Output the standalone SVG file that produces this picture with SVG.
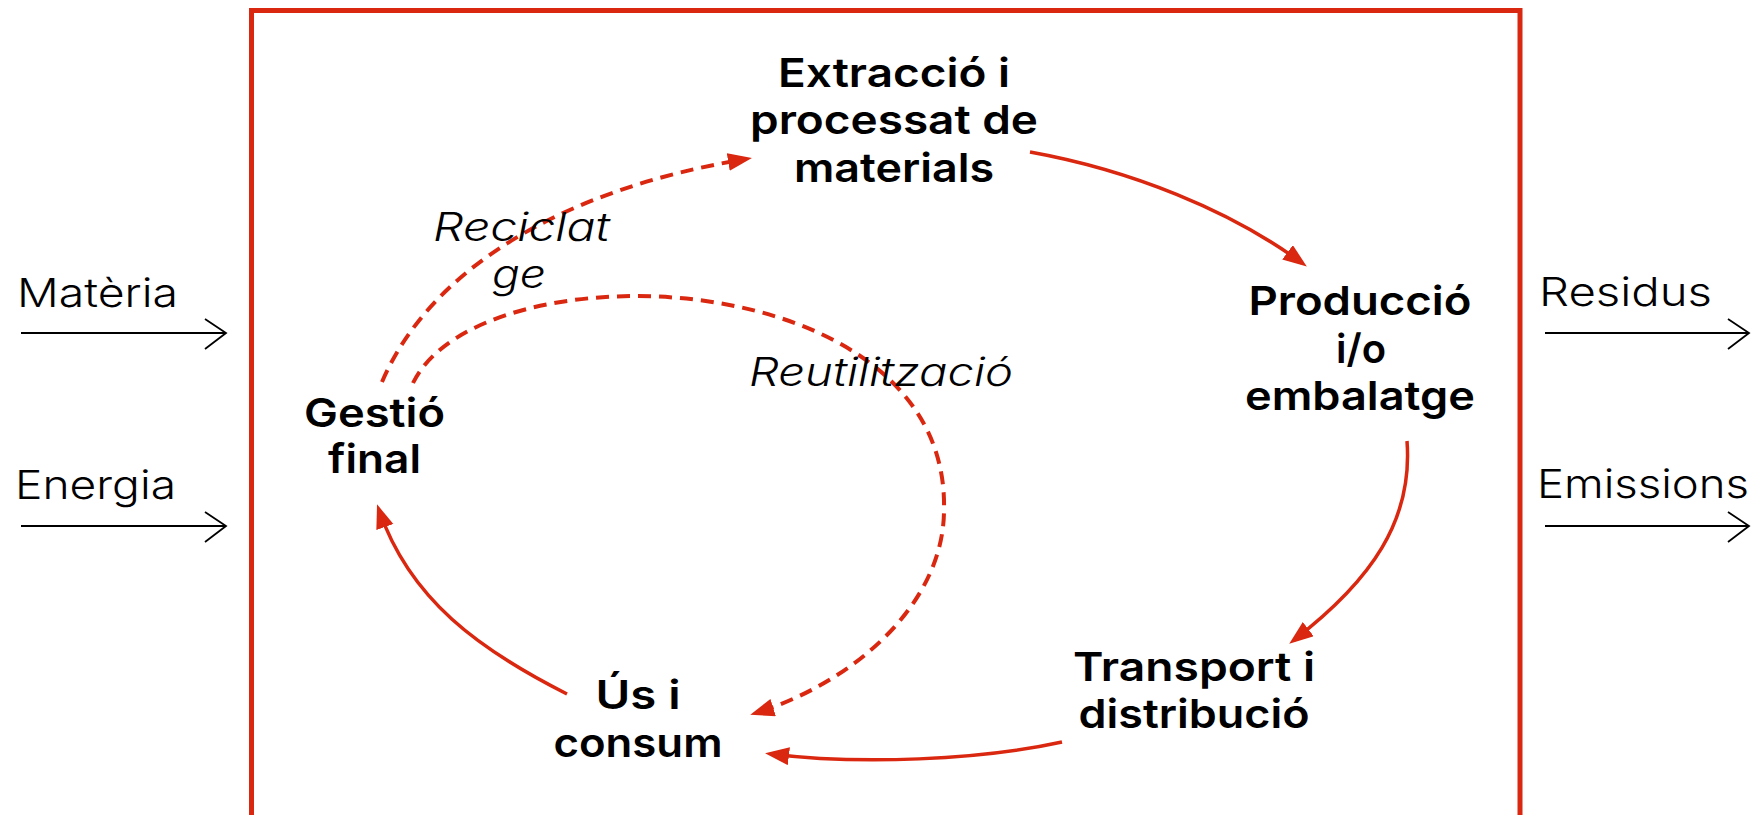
<svg xmlns="http://www.w3.org/2000/svg" width="1760" height="815" viewBox="0 0 1760 815">
  <style>
    .node { font-family: Inter, "DejaVu Sans", "Liberation Sans", sans-serif; font-weight: 600; font-size: 40px; fill: #000; text-anchor: middle; }
    .lab { font-family: Inter, "DejaVu Sans", "Liberation Sans", sans-serif; font-weight: 300; font-size: 40px; fill: #000; }
    .ital { font-family: Inter, "DejaVu Sans", "Liberation Sans", sans-serif; font-style: italic; font-weight: 300; font-size: 39px; fill: #000; }
    .flow { fill: none; stroke: #DA2710; stroke-width: 3.5; }
    .dash { fill: none; stroke: #DA2710; stroke-width: 4; stroke-dasharray: 13 8; }
    .io { fill: none; stroke: #000; stroke-width: 1.8; }
  </style>
  <defs>
    <marker id="ah" markerUnits="userSpaceOnUse" markerWidth="26" markerHeight="20" refX="18" refY="9" orient="auto">
      <path d="M0,0 L24,9 L0,18 z" fill="#DA2710"/>
    </marker>
  </defs>
  <rect id="boundary" x="251.5" y="10.5" width="1268.5" height="807" fill="none" stroke="#DA2710" stroke-width="5"/>

  <g id="inputs-outputs">
    <text class="lab" x="17" y="307" textLength="161" lengthAdjust="spacingAndGlyphs">Matèria</text>
    <path class="io" d="M21,333 H226 M205,319 L226,333 L205,349"/>
    <text class="lab" x="15" y="499" textLength="161" lengthAdjust="spacingAndGlyphs">Energia</text>
    <path class="io" d="M21,526 H226 M205,512 L226,526 L205,542"/>
    <text class="lab" x="1539" y="306" textLength="173" lengthAdjust="spacingAndGlyphs">Residus</text>
    <path class="io" d="M1545,333 H1749 M1728,319 L1749,333 L1728,349"/>
    <text class="lab" x="1537" y="498" textLength="212" lengthAdjust="spacingAndGlyphs">Emissions</text>
    <path class="io" d="M1545,526 H1749 M1728,512 L1749,526 L1728,542"/>
  </g>

  <g id="connectors">
    <path class="flow" marker-end="url(#ah)" d="M1030,152 C1130,170 1230,210 1302,263"/>
    <path class="flow" marker-end="url(#ah)" d="M1407,441 C1413,520 1372,580 1294,640"/>
    <path class="flow" marker-end="url(#ah)" d="M1062,742 C980,760 860,765 771,754"/>
    <path class="flow" marker-end="url(#ah)" d="M567,694 C480,650 410,600 379,510"/>
    <path class="dash" marker-end="url(#ah)" d="M382,382 C430,270 560,190 746,159"/>
    <path class="dash" marker-end="url(#ah)" d="M413,383 C480,245 950,260 944,510 C944,600 860,680 756,713"/>
    <text class="ital" x="433" y="241" textLength="177" lengthAdjust="spacingAndGlyphs">Reciclat</text>
    <text class="ital" x="492" y="288" textLength="54" lengthAdjust="spacingAndGlyphs">ge</text>
    <text class="ital" x="749" y="386" textLength="264" lengthAdjust="spacingAndGlyphs">Reutilització</text>
  </g>

  <g id="extraccio">
    <text class="node" x="894" y="87" textLength="232" lengthAdjust="spacingAndGlyphs">Extracció i</text>
    <text class="node" x="894" y="134" textLength="288" lengthAdjust="spacingAndGlyphs">processat de</text>
    <text class="node" x="894" y="182" textLength="200" lengthAdjust="spacingAndGlyphs">materials</text>
  </g>
  <g id="produccio">
    <text class="node" x="1360" y="315" textLength="223" lengthAdjust="spacingAndGlyphs">Producció</text>
    <text class="node" x="1361" y="363">i/o</text>
    <text class="node" x="1360" y="410" textLength="230" lengthAdjust="spacingAndGlyphs">embalatge</text>
  </g>
  <g id="transport">
    <text class="node" x="1194" y="681" textLength="242" lengthAdjust="spacingAndGlyphs">Transport i</text>
    <text class="node" x="1194" y="728" textLength="231" lengthAdjust="spacingAndGlyphs">distribució</text>
  </g>
  <g id="us">
    <text class="node" x="638" y="709" textLength="85" lengthAdjust="spacingAndGlyphs">Ús i</text>
    <text class="node" x="638" y="757" textLength="169" lengthAdjust="spacingAndGlyphs">consum</text>
  </g>
  <g id="gestio">
    <text class="node" x="374.5" y="427" textLength="141" lengthAdjust="spacingAndGlyphs">Gestió</text>
    <text class="node" x="374.5" y="473" textLength="93" lengthAdjust="spacingAndGlyphs">final</text>
  </g>
</svg>
